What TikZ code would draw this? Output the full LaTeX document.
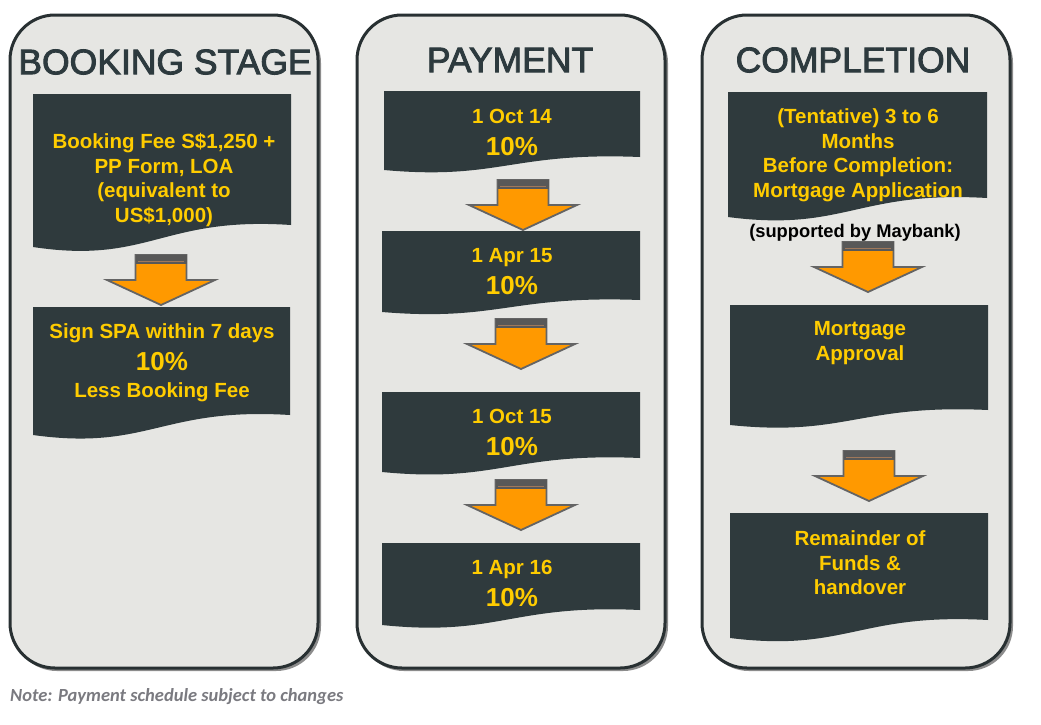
\documentclass[tikz,border=0pt]{standalone}
\usepackage{fontspec}
\setmainfont{Liberation Sans}
\newfontfamily\titlefont[FakeBold=2.5]{Liberation Sans}
\newfontfamily\notefont{Carlito}
\definecolor{panelgray}{RGB}{230,230,227}
\definecolor{panelline}{RGB}{40,48,50}
\definecolor{docdark}{RGB}{47,58,61}
\definecolor{docyellow}{RGB}{255,204,0}
\definecolor{titledark}{RGB}{45,58,62}
\definecolor{arroworange}{RGB}{255,153,0}
\definecolor{arrowline}{RGB}{100,100,100}
\definecolor{bandgray}{RGB}{88,88,88}
\definecolor{bandline}{RGB}{160,120,90}
\definecolor{notegray}{RGB}{122,122,128}

% dark document shape: left, top, right, right bottom, left bottom
\newcommand{\docshape}[5]{%
  \fill[docbox] (#1,#2) -- (#3,#2) -- (#3,#4)
    .. controls ({(#1+#3)/2},{#4-0.4*(#5-#4)}) and ({(#1+#3)/2-0.05*(#3-#1)},{#5+0.8*(#5-#4)}) .. (#1,#5) -- cycle;}

\begin{document}
\begin{tikzpicture}[x=1pt, y=-1pt,
        panel/.style={rounded corners=45pt, fill=panelgray, draw=panelline, line width=3pt},
        shadow/.style={rounded corners=45pt, fill=black!45},
        docbox/.style={fill=docdark},
        doctext/.style={text=docyellow, font=\bfseries\fontsize{20.5}{24.5}\selectfont, align=center},
        title/.style={text=titledark, font=\titlefont\fontsize{35.5}{40}\selectfont},
        blockarrow/.pic={
            \filldraw[fill=arroworange, draw=arrowline, line width=1.8pt, line join=miter]
                (-25.5,0) -- (25.5,0) -- (25.5,25) -- (54,25) -- (0,50) -- (-54,25) -- (-25.5,25) -- cycle;
            \fill[bandgray] (-25.5,0) rectangle (25.5,9);
            \draw[bandline, line width=0.8pt] (-23,6.5) -- (23,6.5);
        },
    ]
    \useasboundingbox (0,0) rectangle (1041,724);

    % panels
    \fill[shadow] (12,18) rectangle (321,671);
    \fill[shadow] (359,18) rectangle (668,671);
    \fill[shadow] (704,18) rectangle (1013,671);
    \draw[panel] (10,15) rectangle (318,668);
    \draw[panel] (357,15) rectangle (665,668);
    \draw[panel] (702,15) rectangle (1010,668);

    % titles
    \node[title] (t_book) at (165,62) {BOOKING STAGE};
    \node[title] (t_pay) at (510,60) {PAYMENT};
    \node[title] (t_comp) at (853,60) {COMPLETION};

    % booking stage
    \docshape{33}{94}{291}{225}{247}
    \node[doctext] (b_fee) at (164,180) {Booking Fee S\$1,250 +\\PP Form, LOA\\(equivalent to\\US\$1,000)};
    \coordinate (a_b1) at (161,255);
    \pic at (a_b1) {blockarrow};
    \docshape{33}{307}{290}{415}{435}
    \node[doctext] (b_spa) at (162,363) {Sign SPA within 7 days\\[7.5pt]{\fontsize{26}{30}\selectfont 10\%}\\[2.5pt]Less Booking Fee};

    % payment
    \docshape{384}{91}{640}{157}{170}
    \node[doctext] (p_oct14) at (512,132) {1 Oct 14\\[7.5pt]{\fontsize{26}{30}\selectfont 10\%}};
    \coordinate (a_p1) at (523,180);
    \pic at (a_p1) {blockarrow};
    \docshape{382}{231}{640}{300}{312}
    \node[doctext] (p_apr15) at (512,272) {1 Apr 15\\[7.5pt]{\fontsize{26}{30}\selectfont 10\%}};
    \coordinate (a_p2) at (521,319);
    \pic at (a_p2) {blockarrow};
    \docshape{382}{392}{640}{458}{472}
    \node[doctext] (p_oct15) at (512,432) {1 Oct 15\\[7.5pt]{\fontsize{26}{30}\selectfont 10\%}};
    \coordinate (a_p3) at (521,480);
    \pic at (a_p3) {blockarrow};
    \docshape{382}{543}{640}{610}{625}
    \node[doctext] (p_apr16) at (512,583) {1 Apr 16\\[7.5pt]{\fontsize{26}{30}\selectfont 10\%}};

    % completion
    \docshape{728}{92}{987}{198}{217}
    \node[doctext] (c_apply) at (858,155) {(Tentative) 3 to 6\\Months\\Before Completion:\\Mortgage Application};
    \node[font=\bfseries\fontsize{18.3}{22}\selectfont] (c_bank) at (855,233) {(supported by Maybank)};
    \coordinate (a_c1) at (868,242);
    \pic at (a_c1) {blockarrow};
    \docshape{730}{305}{988}{410}{425}
    \node[doctext] (c_approve) at (860,343) {Mortgage\\Approval};
    \coordinate (a_c2) at (869,451);
    \pic at (a_c2) {blockarrow};
    \docshape{730}{513}{988}{620}{638}
    \node[doctext] (c_hand) at (860,563) {Remainder of\\Funds \&\\handover};

    % note
    \node[anchor=west, text=notegray, font=\notefont\bfseries\itshape\fontsize{18.5}{22}\selectfont, inner sep=0pt] (note) at (10,697) {Note: Payment schedule subject to changes};
\end{tikzpicture}
\end{document}
